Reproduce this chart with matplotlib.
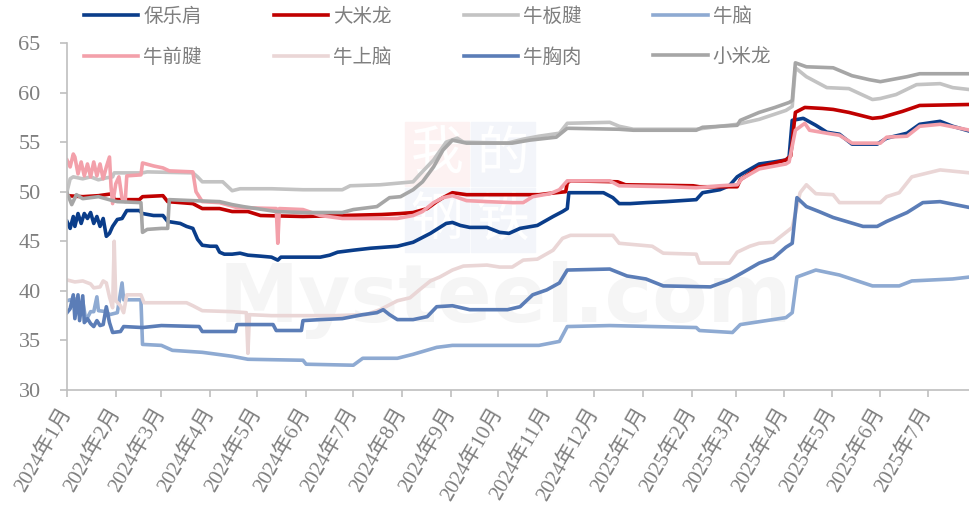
import matplotlib
matplotlib.use("Agg")
import matplotlib.pyplot as plt
import pandas as pd

START = pd.Timestamp("2024-01-01")
END = pd.Timestamp("2025-07-28")

# day offsets from 2024-01-01 and prices (yuan/kg)
days_baolejian = [0, 2, 4, 5, 7, 9, 11, 13, 15, 17, 19, 21, 23, 25, 27, 29, 32, 35, 38, 46, 48, 55, 61, 64, 72, 76, 80,
                  83, 86, 91, 95, 97, 100, 105, 110, 115, 123, 130, 134, 136, 150, 161, 167, 172, 182, 193, 210, 220,
                  231, 241, 245, 250, 256, 267, 275, 281, 288, 299, 309, 315, 318, 319, 341, 347, 351, 358, 368, 381,
                  400, 404, 415, 421, 426, 429, 440, 449, 457, 459, 461, 468, 476, 483, 491, 499, 515, 521, 534, 542,
                  555, 563, 574]
vals_baolejian = [47.0, 46.3, 47.5, 46.5, 47.8, 46.8, 47.8, 47.3, 47.9, 46.8, 47.5, 46.5, 47.3, 45.5, 45.8, 46.5, 47.2,
                  47.3, 48.1, 48.1, 47.8, 47.6, 47.6, 47.0, 46.8, 46.5, 46.3, 45.2, 44.6, 44.5, 44.5, 43.9, 43.7, 43.7,
                  43.8, 43.6, 43.5, 43.4, 43.1, 43.4, 43.4, 43.4, 43.6, 43.9, 44.1, 44.3, 44.5, 44.9, 45.8, 46.8, 46.9,
                  46.6, 46.4, 46.4, 45.9, 45.8, 46.3, 46.6, 47.5, 48.0, 48.3, 49.9, 49.9, 49.4, 48.8, 48.8, 48.9, 49.0,
                  49.2, 49.9, 50.2, 50.6, 51.5, 51.8, 52.8, 53.0, 53.2, 53.5, 57.2, 57.4, 56.7, 56.0, 55.8, 54.8, 54.8,
                  55.4, 55.9, 56.8, 57.1, 56.6, 56.1]

days_damilong = [0, 10, 20, 29, 30, 46, 48, 61, 64, 80, 86, 97, 105, 115, 123, 150, 175, 200, 212, 220, 229, 235, 239,
                 245, 254, 300, 305, 317, 318, 320, 350, 355, 398, 402, 426, 428, 440, 450, 457, 460, 463, 469, 480,
                 487, 497, 512, 518, 531, 542, 574]
vals_damilong = [49.6, 49.5, 49.6, 49.8, 49.2, 49.2, 49.5, 49.6, 49.0, 48.8, 48.3, 48.3, 48.0, 48.0, 47.6, 47.5, 47.6,
                 47.7, 47.8, 47.9, 48.3, 49.0, 49.4, 49.9, 49.7, 49.7, 49.8, 50.0, 50.9, 51.1, 51.0, 50.7, 50.6, 50.5,
                 50.5, 51.2, 52.5, 52.9, 53.2, 53.6, 58.0, 58.5, 58.4, 58.3, 58.0, 57.4, 57.5, 58.1, 58.7, 58.8]

days_banjian = [0, 2, 4, 10, 15, 20, 25, 29, 30, 48, 51, 80, 83, 86, 99, 105, 110, 130, 150, 175, 180, 199, 213, 220,
                224, 233, 241, 248, 252, 280, 290, 300, 313, 318, 345, 351, 360, 400, 415, 426, 440, 457, 461, 463,
                470, 483, 497, 512, 517, 527, 540, 555, 563, 574]
vals_banjian = [50.0, 51.3, 51.5, 51.3, 51.5, 51.2, 51.4, 51.5, 51.9, 51.9, 52.0, 51.9, 51.5, 51.0, 51.0, 50.1, 50.3,
                50.3, 50.2, 50.2, 50.6, 50.7, 50.9, 51.0, 51.7, 53.2, 55.0, 55.4, 55.0, 54.9, 55.3, 55.6, 55.9, 56.9,
                57.0, 56.6, 56.3, 56.3, 56.6, 56.8, 57.3, 58.2, 58.6, 62.5, 61.6, 60.5, 60.4, 59.3, 59.4, 59.8, 60.8,
                60.9, 60.5, 60.3]

days_naoo = [0, 2, 4, 6, 8, 10, 12, 15, 17, 19, 20, 25, 27, 32, 35, 36, 47, 48, 60, 67, 86, 105, 115, 150, 152, 182,
             188, 210, 220, 235, 245, 300, 313, 318, 345, 400, 402, 423, 428, 457, 461, 464, 476, 491, 512, 529, 537,
             563, 574]
vals_naoo = [39.0, 39.1, 38.8, 39.2, 37.5, 39.0, 37.0, 37.9, 37.9, 39.4, 38.0, 37.9, 37.6, 37.8, 40.8, 39.1, 39.1, 34.6,
             34.5, 34.0, 33.8, 33.4, 33.1, 33.0, 32.6, 32.5, 33.2, 33.2, 33.6, 34.3, 34.5, 34.5, 34.9, 36.4, 36.5,
             36.3, 36.0, 35.8, 36.6, 37.3, 37.8, 41.4, 42.1, 41.6, 40.5, 40.5, 41.0, 41.2, 41.4]

days_qianjian = [0, 2, 4, 5, 7, 9, 11, 13, 15, 17, 19, 21, 23, 25, 27, 28, 29, 31, 33, 35, 37, 38, 47, 48, 55, 61, 65,
                 80, 82, 86, 97, 108, 133, 134, 135, 150, 161, 175, 210, 220, 226, 233, 239, 245, 254, 267, 283, 290,
                 296, 307, 313, 318, 345, 351, 383, 400, 415, 426, 429, 440, 457, 459, 463, 469, 472, 483, 491, 499,
                 517, 521, 534, 542, 555, 574]
vals_qianjian = [53.2, 52.5, 53.8, 53.5, 51.8, 53.0, 51.6, 52.8, 51.5, 53.0, 51.6, 52.8, 51.3, 52.5, 53.5, 50.5, 48.8,
                 50.8, 51.5, 49.3, 49.0, 51.6, 51.7, 52.9, 52.6, 52.4, 52.1, 52.0, 50.0, 49.0, 48.9, 48.4, 48.3, 44.8,
                 48.3, 48.2, 47.6, 47.3, 47.3, 47.6, 48.0, 48.9, 49.4, 49.6, 49.1, 49.0, 48.9, 48.9, 49.5, 49.8, 50.2,
                 51.1, 51.1, 50.6, 50.5, 50.4, 50.6, 50.7, 51.3, 52.3, 52.8, 53.0, 56.2, 56.9, 56.2, 55.9, 55.7, 54.9,
                 54.9, 55.5, 55.6, 56.6, 56.8, 56.2]

days_shangnao = [0, 5, 10, 15, 17, 21, 23, 25, 27, 29, 30, 31, 34, 36, 38, 47, 49, 76, 80, 86, 105, 114, 115, 116, 130,
                 170, 190, 199, 210, 218, 224, 231, 237, 245, 252, 267, 275, 283, 290, 299, 309, 315, 320, 347, 351,
                 372, 379, 400, 402, 421, 426, 434, 440, 449, 457, 461, 466, 470, 476, 487, 491, 517, 521, 529, 537,
                 555, 574]
vals_shangnao = [41.1, 40.9, 41.0, 40.7, 40.3, 40.4, 41.0, 40.8, 39.4, 38.3, 45.0, 39.0, 38.5, 37.8, 39.6, 39.6, 38.8,
                 38.8, 38.5, 38.0, 37.9, 37.8, 33.7, 37.6, 37.5, 37.5, 37.6, 38.1, 39.0, 39.3, 40.1, 41.0, 41.4, 42.1,
                 42.5, 42.6, 42.4, 42.4, 43.1, 43.2, 44.1, 45.3, 45.6, 45.6, 44.8, 44.5, 43.8, 43.7, 42.8, 42.8, 43.9,
                 44.5, 44.8, 44.9, 45.9, 46.4, 49.9, 50.7, 49.8, 49.7, 48.9, 48.9, 49.5, 49.9, 51.5, 52.2, 51.9]

days_xiongrou = [0, 2, 4, 5, 7, 8, 10, 11, 13, 15, 17, 19, 21, 23, 25, 27, 29, 34, 36, 48, 60, 84, 86, 107, 108, 131,
                 133, 149, 150, 161, 175, 188, 197, 201, 205, 210, 220, 229, 235, 245, 256, 280, 288, 296, 305, 313,
                 318, 345, 356, 368, 379, 409, 421, 429, 440, 449, 457, 461, 464, 470, 478, 487, 506, 515, 521, 534,
                 544, 555, 574]
vals_xiongrou = [37.8, 38.2, 39.6, 37.2, 39.6, 37.0, 39.5, 36.8, 37.2, 36.7, 36.4, 37.0, 36.5, 36.6, 38.4, 36.8, 35.8,
                 35.9, 36.4, 36.3, 36.5, 36.4, 35.9, 35.9, 36.6, 36.6, 36.0, 36.0, 37.0, 37.1, 37.2, 37.6, 37.8, 38.1,
                 37.6, 37.1, 37.1, 37.4, 38.4, 38.5, 38.1, 38.1, 38.4, 39.6, 40.1, 40.8, 42.1, 42.2, 41.5, 41.2, 40.5,
                 40.4, 41.1, 41.8, 42.8, 43.3, 44.4, 44.8, 49.4, 48.5, 48.0, 47.4, 46.5, 46.5, 47.0, 47.9, 48.9, 49.0,
                 48.4]

days_xiaomilong = [0, 3, 6, 10, 20, 29, 32, 47, 48, 51, 60, 64, 65, 80, 97, 105, 112, 133, 150, 175, 182, 197, 205, 212,
                   220, 226, 233, 239, 245, 254, 283, 294, 311, 318, 351, 360, 400, 404, 426, 428, 440, 450, 459, 461,
                   463, 470, 487, 499, 510, 517, 534, 542, 574]
vals_xiaomilong = [49.9, 48.7, 49.7, 49.3, 49.5, 49.1, 49.0, 48.9, 45.9, 46.2, 46.3, 46.3, 49.2, 49.1, 49.0, 48.7, 48.5,
                   48.0, 47.9, 47.9, 48.2, 48.5, 49.4, 49.5, 50.2, 51.0, 52.5, 54.2, 55.2, 54.9, 54.9, 55.2, 55.5, 56.4,
                   56.3, 56.2, 56.2, 56.5, 56.7, 57.2, 58.0, 58.5, 59.0, 59.2, 63.0, 62.6, 62.5, 61.7, 61.3, 61.1, 61.6,
                   61.9, 61.9]

series = [
    ("保乐肩", days_baolejian, vals_baolejian, "#0a3d8a"),
    ("大米龙", days_damilong, vals_damilong, "#c00000"),
    ("牛板腱", days_banjian, vals_banjian, "#c3c3c3"),
    ("牛脑", days_naoo, vals_naoo, "#8eaad2"),
    ("牛前腱", days_qianjian, vals_qianjian, "#f3a0aa"),
    ("牛上脑", days_shangnao, vals_shangnao, "#ead6d6"),
    ("牛胸肉", days_xiongrou, vals_xiongrou, "#5b7db7"),
    ("小米龙", days_xiaomilong, vals_xiaomilong, "#a6a6a6"),
]

FONTS = ["Liberation Serif", "Noto Sans CJK SC", "DejaVu Sans"]
plt.rcParams["font.family"] = FONTS
TXT = "#7f7f7f"
AX = "#bfbfbf"

fig = plt.figure(figsize=(9.7, 5.24), dpi=100)
ax = fig.add_axes([67 / 970, 1 - 390 / 524, 1 - 67 / 970, (390 - 43) / 524])

# faint watermark: 我的钢铁 blocks + Mysteel.com
marks = [("我", 0.0, 1.0, "#fdf2f2"), ("的", 1.0, 1.0, "#f3f5fa"),
         ("钢", 0.0, 0.0, "#f3f5fa"), ("铁", 1.0, 0.0, "#f3f5fa")]
for ch, cx, cy, bg in marks:
    x0 = (405 + cx * 66) / 970
    y0 = 1 - (252 - cy * 66) / 524
    fig.patches.append(plt.Rectangle((x0, y0), 64 / 970, 64 / 524, transform=fig.transFigure,
                                     color=bg, zorder=0))
    fig.text(x0 + 32 / 970, y0 + 32 / 524, ch, color="white", fontsize=38, ha="center", va="center",
             family="Noto Sans CJK SC", zorder=0.5)
ax.set_zorder(1)
ax.patch.set_alpha(0)
fig.text(505 / 970, 1 - 300 / 524, "Mysteel.com", fontsize=58, color="#f5f5f5",
         ha="center", va="center", family="DejaVu Sans", fontweight="bold", zorder=0.5)

handles = {}
for name, days, vals, color in series:
    x = START + pd.to_timedelta(days, unit="D")
    line, = ax.plot(x, vals, color=color, lw=2.6, label=name, solid_joinstyle="round", zorder=2)
    handles[name] = line

ax.set_xlim(START, END)
ax.set_ylim(30, 65)
ax.set_yticks(range(30, 70, 5))

months = pd.date_range("2024-01-01", "2025-07-01", freq="MS")
ax.set_xticks(months)
ax.set_xticklabels([f"{d.year}年{d.month}月" for d in months], rotation=60, ha="right",
                   rotation_mode="anchor", va="center")

for side in ["top", "right"]:
    ax.spines[side].set_visible(False)
for side in ["left", "bottom"]:
    ax.spines[side].set_color(AX)
    ax.spines[side].set_linewidth(1.2)
ax.tick_params(axis="y", colors=AX, labelcolor=TXT, labelsize=16, length=5, width=1.2, pad=14)
ax.tick_params(axis="x", colors=AX, labelcolor=TXT, labelsize=15, length=5, width=1.2, pad=9)

order = ["保乐肩", "牛前腱", "大米龙", "牛上脑", "牛板腱", "牛胸肉", "牛脑", "小米龙"]
fig.legend([handles[n] for n in order], order, loc="upper left", bbox_to_anchor=(84 / 970, 1 - 7 / 524),
           ncol=4, frameon=False, fontsize=14, labelcolor=TXT, handlelength=2.8, handletextpad=0.25,
           columnspacing=3.7, labelspacing=1.15, borderpad=0, borderaxespad=0)

fig.savefig("out.png", dpi=100)
